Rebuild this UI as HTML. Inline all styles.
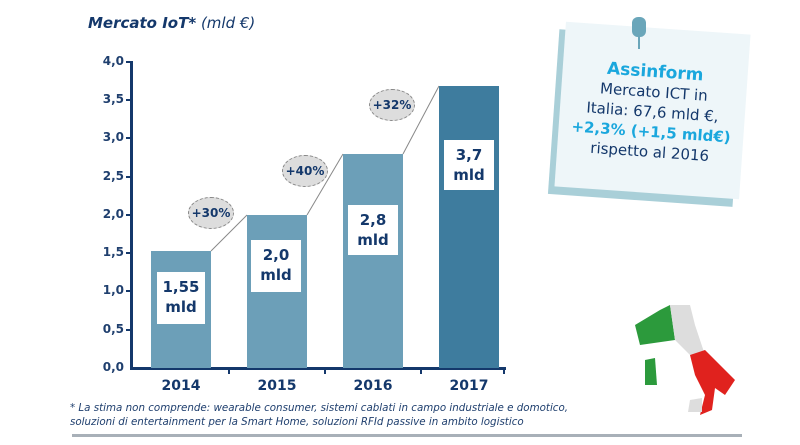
<!DOCTYPE html>
<html><head><meta charset="utf-8"><style>
body{margin:0;width:800px;height:445px;background:#fff;overflow:hidden;position:relative;font-family:"DejaVu Sans","Liberation Sans",sans-serif}
.t{position:absolute;color:#14386b}
.yl{position:absolute;left:92px;width:32px;text-align:right;font-size:12px;font-weight:bold;color:#1f3f6e}
.bar{position:absolute;background:#6c9fb8}
.lab{position:absolute;background:#fff;color:#14386b;font-weight:bold;font-size:15px;text-align:center;line-height:20px;padding-top:5px}
.yr{position:absolute;top:378px;font-size:14px;font-weight:bold;color:#14386b;width:60px;text-align:center}
.bub{position:absolute;width:44px;height:30px;border-radius:50%;background:#ddd;border:1px dashed #888;font-size:12px;font-weight:bold;color:#14386b;text-align:center;line-height:30px}
</style></head><body>
<div class="t" style="left:88px;top:14px;font-size:15px;font-style:italic"><b>Mercato IoT*</b> (mld €)</div>
<div style="position:absolute;left:130px;top:61px;width:3px;height:308px;background:#14386b"></div>
<div style="position:absolute;left:130px;top:367px;width:376px;height:3px;background:#14386b"></div>
<div class="yl" style="top:54px">4,0</div><div class="yl" style="top:92px">3,5</div><div class="yl" style="top:130px">3,0</div><div class="yl" style="top:169px">2,5</div><div class="yl" style="top:207px">2,0</div><div class="yl" style="top:245px">1,5</div><div class="yl" style="top:283px">1,0</div><div class="yl" style="top:322px">0,5</div><div class="yl" style="top:360px">0,0</div>
<svg style="position:absolute;left:0;top:0" width="800" height="445">
<line x1="211" y1="251" x2="247" y2="215" stroke="#888"/>
<line x1="307" y1="215" x2="343" y2="154" stroke="#888"/>
<line x1="403" y1="154" x2="439" y2="86" stroke="#888"/>
<g stroke="#14386b" stroke-width="2"><line x1="126" y1="62" x2="131" y2="62"/><line x1="126" y1="100" x2="131" y2="100"/><line x1="126" y1="138" x2="131" y2="138"/><line x1="126" y1="177" x2="131" y2="177"/><line x1="126" y1="215" x2="131" y2="215"/><line x1="126" y1="253" x2="131" y2="253"/><line x1="126" y1="291" x2="131" y2="291"/><line x1="126" y1="330" x2="131" y2="330"/>
<line x1="229" y1="368" x2="229" y2="374"/><line x1="325" y1="368" x2="325" y2="374"/><line x1="421" y1="368" x2="421" y2="374"/><line x1="504" y1="368" x2="504" y2="374"/></g>
</svg>
<div class="bar" style="left:151px;top:251px;width:60px;height:117px"></div>
<div class="bar" style="left:247px;top:215px;width:60px;height:153px"></div>
<div class="bar" style="left:343px;top:154px;width:60px;height:214px"></div>
<div class="bar" style="left:439px;top:86px;width:60px;height:282px;background:#3e7c9e"></div>
<div class="lab" style="left:157px;top:272px;width:48px;height:47px">1,55<br>mld</div>
<div class="lab" style="left:251px;top:240px;width:50px;height:47px">2,0<br>mld</div>
<div class="lab" style="left:348px;top:205px;width:50px;height:45px">2,8<br>mld</div>
<div class="lab" style="left:444px;top:140px;width:50px;height:45px">3,7<br>mld</div>
<div class="bub" style="left:188px;top:197px">+30%</div>
<div class="bub" style="left:282px;top:155px">+40%</div>
<div class="bub" style="left:369px;top:89px">+32%</div>
<div class="yr" style="left:151px">2014</div><div class="yr" style="left:247px">2015</div><div class="yr" style="left:343px">2016</div><div class="yr" style="left:439px">2017</div>
<div class="t" style="left:70px;top:401px;font-size:10.3px;font-style:italic;line-height:14px;color:#1f3f6e">* La stima non comprende: wearable consumer, sistemi cablati in campo industriale e domotico,<br>soluzioni di entertainment per la Smart Home, soluzioni RFId passive in ambito logistico</div>
<div style="position:absolute;left:72px;top:434px;width:670px;height:3px;background:#a8b0b8"></div>
<div style="position:absolute;left:560px;top:28px;width:185px;height:165px;background:#eef6f9;transform:rotate(4deg);box-shadow:-6px 8px 0 #a9cfd8"></div>
<div style="position:absolute;left:632px;top:17px;width:14px;height:20px;border-radius:6px;background:#6aa6ba"></div>
<div style="position:absolute;left:638px;top:35px;width:2px;height:14px;background:#6aa6ba"></div>
<div style="position:absolute;left:560px;top:62px;width:185px;text-align:center;transform:rotate(4deg);font-size:15px;line-height:20px;color:#14386b">
<div style="color:#1aa7dd;font-weight:bold;font-size:17px">Assinform</div>Mercato ICT in<br>Italia: 67,6 mld €,<br><b style="color:#1aa7dd">+2,3% (+1,5 mld€)</b><br>rispetto al 2016</div>
<svg style="position:absolute;left:630px;top:300px" width="110" height="120">
<path d="M5,25 L30,10 L40,5 L45,40 L10,45 Z" fill="#2c9a3c"/>
<path d="M40,5 L60,5 L65,25 L75,55 L60,55 L45,40 Z" fill="#ddd"/>
<path d="M60,55 L75,50 L105,80 L95,95 L85,88 L82,110 L70,115 L75,95 L65,75 Z" fill="#e0221e"/>
<path d="M15,60 L25,58 L27,85 L15,85 Z" fill="#2c9a3c"/>
<path d="M60,100 L72,98 L72,112 L58,112 Z" fill="#ddd"/>
</svg>
</body></html>
